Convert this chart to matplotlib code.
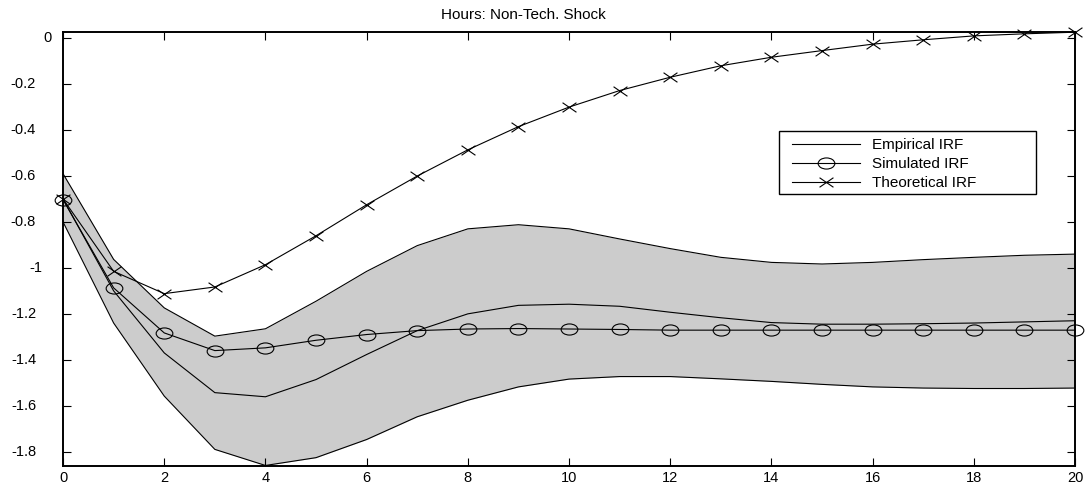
import numpy as np
import matplotlib
matplotlib.use('Agg')
import matplotlib.pyplot as plt
from matplotlib.path import Path
from matplotlib.patches import Rectangle
from matplotlib.transforms import Affine2D, blended_transform_factory

plt.rcParams['font.family'] = ['Liberation Sans', 'DejaVu Sans']

# horizon
horizon = list(range(0, 21))

# empirical IRF and its confidence band
empirical = [-0.70, -1.10, -1.37, -1.543, -1.561, -1.486, -1.377, -1.273, -1.20, -1.163,
             -1.158, -1.167, -1.193, -1.217, -1.238, -1.245, -1.245, -1.243, -1.24, -1.235, -1.23]
band_upper = [-0.59, -0.963, -1.174, -1.297, -1.265, -1.145, -1.015, -0.903, -0.83, -0.812,
              -0.83, -0.874, -0.916, -0.954, -0.976, -0.983, -0.976, -0.964, -0.954, -0.945, -0.94]
band_lower = [-0.80, -1.24, -1.558, -1.79, -1.86, -1.826, -1.747, -1.648, -1.576, -1.518,
              -1.484, -1.473, -1.473, -1.483, -1.494, -1.507, -1.518, -1.523, -1.525, -1.525, -1.523]

# simulated and theoretical IRFs
simulated = [-0.703, -1.087, -1.283, -1.36, -1.348, -1.315, -1.29, -1.273, -1.266, -1.264,
             -1.266, -1.268, -1.271, -1.271, -1.271, -1.271, -1.271, -1.271, -1.271, -1.271, -1.271]
theoretical = [-0.70, -1.015, -1.112, -1.083, -0.986, -0.86, -0.725, -0.60, -0.486, -0.385,
               -0.30, -0.228, -0.170, -0.120, -0.083, -0.054, -0.026, -0.007, 0.010, 0.019, 0.026]

yticks = [-1.8, -1.6, -1.4, -1.2, -1.0, -0.8, -0.6, -0.4, -0.2, 0.0]
ytick_labels = ['-1.8', '-1.6', '-1.4', '-1.2', '-1', '-0.8', '-0.6', '-0.4', '-0.2', '0']
xticks = list(range(0, 21, 2))

# flattened circle and cross markers like the original
ellipse = Affine2D().scale(1.5, 1.0).transform_path(Path.unit_circle())
cross = Path([(-1.45, -1), (1.45, 1), (-1.45, 1), (1.45, -1)],
             [Path.MOVETO, Path.LINETO, Path.MOVETO, Path.LINETO])

fig = plt.figure(figsize=(10.87, 4.92), dpi=100)
ax = fig.add_axes([0.058, 0.053, 0.931, 0.882])

ax.fill_between(horizon, band_lower, band_upper, color='#cccccc', linewidth=0)
ax.plot(horizon, band_upper, color='black', linewidth=0.8)
ax.plot(horizon, band_lower, color='black', linewidth=0.8)

ax.plot(horizon, empirical, color='black', linewidth=0.8, label='Empirical IRF')
ax.plot(horizon, simulated, color='black', linewidth=0.8, marker=ellipse, markersize=12,
        markerfacecolor='none', markeredgewidth=0.8, label='Simulated IRF', clip_on=False)
ax.plot(horizon, theoretical, color='black', linewidth=0.8, marker=cross, markersize=10,
        markeredgewidth=0.8, label='Theoretical IRF', clip_on=False)

ax.set_xlim(0, 20)
ax.set_ylim(-1.862, 0.027)
ax.set_xticks(xticks)
ax.set_yticks(yticks)
ax.set_yticklabels([])
ax.tick_params(direction='in', length=6, width=0.8, top=True, right=True, labelsize=10.5)
for sp in ax.spines.values():
    sp.set_linewidth(1.4)

# y tick labels placed like the original (right edge depends on label length)
ytrans = blended_transform_factory(fig.transFigure, ax.transData)
for val, lab in zip(yticks, ytick_labels):
    if len(lab) >= 4:
        xr = 36
    elif len(lab) == 2:
        xr = 42
    else:
        xr = 52
    ax.text(xr / 1087, val, lab, transform=ytrans, ha='right', va='center', fontsize=10.5)

fig.text(523.5 / 1087, 1 - 15 / 492, 'Hours: Non-Tech. Shock', ha='center', va='center', fontsize=11)

# legend box drawn by hand to get the wide frame of the original
ax.add_patch(Rectangle((0.7075, 0.627), 0.2535, 0.1456, transform=ax.transAxes,
                       facecolor='white', edgecolor='black', linewidth=1.0, zorder=4.5))
leg = ax.legend(loc='upper left', bbox_to_anchor=(0.720, 0.755), fontsize=11,
                handlelength=4.45, handletextpad=0.8, numpoints=1, frameon=False,
                borderpad=0, borderaxespad=0, labelspacing=0.33)
leg.set_zorder(5)

plt.savefig('out.png', dpi=100)
